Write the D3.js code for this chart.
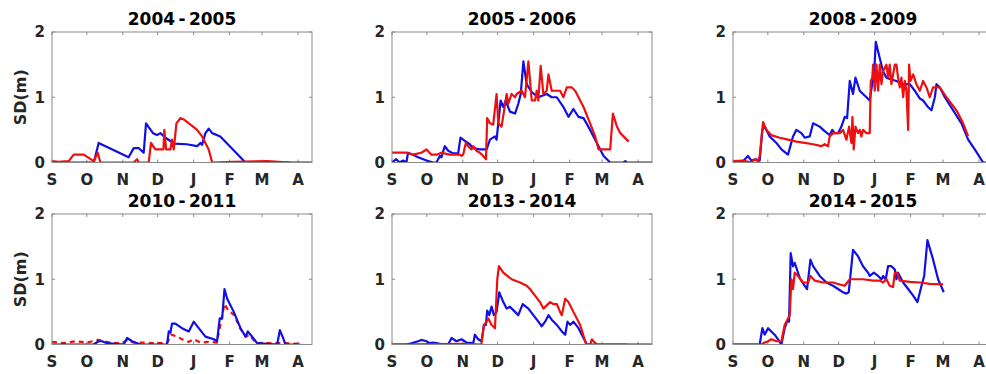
<!DOCTYPE html>
<html><head><meta charset="utf-8">
<script src="https://cdn.jsdelivr.net/npm/d3@7"></script>
<style>
html,body{margin:0;padding:0;background:#fff;}
text{font-family:"DejaVu Sans",sans-serif;font-weight:bold;}
</style></head>
<body>
<svg id="chart" width="986" height="374"></svg>
<script>
// ---- data (day index from 1 September, snow depth in m) ----
const titles = ["2004\u2009-\u20092005","2005\u2009-\u20092006","2008\u2009-\u20092009","2010\u2009-\u20092011","2013\u2009-\u20092014","2014\u2009-\u20092015"];
const monthLabels = ["S","O","N","D","J","F","M","A"];
const monthDays = [0,30,61,91,122,153,181,212];
const yTicks = [0,1,2];

const blue2004 = [[0,0],[36,0],[40.2,0.3],[66,0.08],[70.4,0.22],[74.7,0.22],[79,0.15],[81,0.6],[87,0.45],[90.5,0.42],[93.4,0.45],[97.7,0.38],[102,0.33],[105,0.29],[116,0.28],[125,0.25],[128,0.3],[129.3,0.27],[132.2,0.45],[135,0.52],[138,0.45],[145,0.4],[166.7,0],[224.7,0]];
const red2004 = [[0,0.02],[5.7,0.01],[14.4,0.02],[18.7,0.12],[27.3,0.12],[36,0.02],[39.4,0.15],[41.7,0],[70.4,0],[73.3,0.05],[74.7,0],[83.3,0],[85.3,0.3],[89,0.2],[96,0.2],[96.8,0.5],[98.3,0.2],[102,0.2],[103.4,0.35],[104.9,0.2],[107.2,0.6],[110.6,0.68],[113.5,0.66],[119.3,0.58],[125,0.5],[129.3,0.4],[135,0.2],[138,0],[156.6,0.01],[185.3,0.02],[205.5,0]];

const blue2005 = [[0,0],[3.7,0.05],[6.6,0],[9.5,0.03],[12.4,0],[13.8,0.15],[18,0.12],[22.5,0.08],[29.7,0.03],[35.4,0],[38.3,0],[41.2,0.1],[42.6,0.08],[45.5,0.25],[48.4,0.18],[52.7,0.14],[57,0.14],[59,0.38],[62.8,0.33],[67,0.28],[70,0.22],[75.7,0.2],[81.5,0.2],[84.4,0.35],[88.7,0.4],[90.1,0.35],[93.6,0.95],[95.9,0.85],[97.9,0.95],[101.6,0.78],[106,0.75],[108.8,0.9],[110.9,1.05],[113.2,1.55],[116,1.2],[120.4,1.08],[126,1.0],[133.3,1.05],[137.6,1.0],[142,1.0],[147.7,0.85],[152,0.7],[156.3,0.82],[160.7,0.7],[165,0.68],[170.7,0.5],[176.5,0.3],[182.3,0.1],[188,0],[199.5,0],[201,0.02],[202.4,0],[224,0]];
const red2005 = [[0,0.15],[12.4,0.15],[18,0.12],[25.3,0.15],[29.7,0.2],[34,0.12],[38.3,0.12],[42.6,0.15],[49.8,0.12],[58.5,0.12],[59.9,0.1],[61.3,0.12],[63.6,0.3],[65.6,0.25],[68.5,0.2],[70,0.25],[72.8,0.18],[75.7,0.15],[78.6,0.1],[81,0.05],[82,0.68],[84.4,0.6],[87.2,0.58],[90.1,1.05],[91.6,0.6],[94.4,0.55],[98.8,1.05],[100.2,0.9],[103,1.05],[106,1.0],[107.4,1.05],[111.7,1.1],[114.6,1.0],[117.5,1.55],[120.4,0.95],[123.2,0.95],[124.7,1.1],[126,0.95],[128.1,1.48],[130.4,1.05],[133.3,1.1],[134.8,1.35],[137.6,1.1],[144.8,1.1],[147.7,1.0],[150.6,1.15],[154.9,1.15],[157.8,1.1],[165,0.85],[170.7,0.6],[175,0.4],[178,0.2],[188,0.2],[190.3,0.75],[193.8,0.55],[196.7,0.45],[199.5,0.4],[203.9,0.32]];

const blue2008 = [[0,0],[8.6,0.02],[12.9,0.1],[15.8,0.03],[20.1,0.05],[21.6,0.02],[23,0.03],[25.3,0.5],[27.3,0.55],[31.6,0.4],[37.4,0.3],[41.7,0.2],[47.4,0.12],[51.7,0.4],[54.6,0.5],[58.9,0.45],[61.8,0.38],[66.1,0.4],[69,0.6],[74.7,0.55],[79,0.48],[83.3,0.42],[85.6,0.5],[87.6,0.45],[90.5,0.45],[93.4,0.55],[96.3,0.7],[98.3,0.68],[100.6,1.25],[103.4,1.05],[105.5,1.3],[109.2,1.1],[112,1.05],[115,1.0],[117.8,0.95],[120.7,1.3],[122,1.5],[123,1.85],[126.4,1.6],[129.3,1.4],[132.2,1.3],[135,1.28],[140.8,1.25],[146.6,1.2],[152.3,1.2],[156.6,1.1],[161,0.98],[163.8,0.95],[168,0.85],[171,0.8],[173.9,1.0],[175.3,1.2],[178.2,1.15],[182.5,1.0],[189.7,0.8],[196.8,0.6],[202.6,0.35],[208.3,0.2],[215.5,0],[224,0]];
const red2008 = [[0,0.02],[8.6,0.03],[15.8,0],[18.7,0.05],[21.6,0.02],[23,0.1],[25.9,0.62],[28.7,0.5],[33,0.42],[40.2,0.38],[47.4,0.35],[54.6,0.32],[61.8,0.3],[69,0.28],[76.1,0.25],[79,0.28],[81.9,0.25],[83.3,0.4],[86.2,0.45],[92,0.45],[94.8,0.5],[97.7,0.35],[100,0.55],[102,0.3],[102.9,0.7],[104,0.2],[105.5,0.55],[107.8,0.45],[109.2,0.5],[110.6,0.4],[112,0.5],[115,0.45],[117.8,0.45],[118.7,1.25],[120,1.3],[120.7,1.5],[122.1,1.1],[123.6,1.5],[125,1.1],[126.4,1.5],[127.9,1.2],[129.3,1.4],[132.2,1.5],[133.6,1.3],[135,1.5],[136.5,1.2],[139.4,1.5],[140.8,1.5],[142.2,1.3],[143.7,1.15],[145.1,1.3],[146.6,1.0],[148,1.25],[149.4,1.1],[150.9,0.5],[151.7,1.5],[152.9,1.25],[155.2,1.35],[158,1.2],[161,1.1],[163.8,1.25],[166.7,1.15],[169.5,1.0],[172.4,1.15],[178.2,1.15],[183.9,1.0],[192.5,0.8],[198.3,0.6],[202.6,0.4]];

const blue2010 = [[0,0],[35.9,0],[40.2,0.05],[43.1,0.05],[47.4,0.02],[61.8,0],[64.7,0.1],[69,0.05],[76.1,0],[99.1,0],[100.6,0.2],[102,0.18],[103.4,0.32],[106.3,0.32],[112,0.25],[117.8,0.2],[122.1,0.35],[126.4,0.25],[132.2,0.12],[139.4,0.08],[142.2,0.05],[144.5,0.4],[146.6,0.4],[148.6,0.85],[150.9,0.7],[156.6,0.5],[162.4,0.25],[166.7,0.12],[168.7,0.2],[172.4,0.12],[176.7,0.02],[194,0],[196.3,0.22],[199.1,0.1],[201.1,0],[214,0]];
const red2010 = [[0,0.04],[10,0.02],[20,0.05],[30,0.03],[40,0.07],[50,0.03],[60,0.02],[65,0.07],[70,0.03],[80,0.03],[90,0.02],[99,0.02],[103,0.15],[108,0.12],[112,0.08],[118,0.04],[122,0.08],[128,0.03],[135,0.04],[142,0.03],[148.6,0.62],[152,0.52],[157,0.45],[162,0.25],[167,0.12],[170,0.15],[176,0.02],[200,0.02],[214,0.01]];

const blue2013 = [[0,0],[12.4,0],[16.7,0.02],[22.5,0.05],[25.3,0.07],[29.7,0.05],[32.5,0.02],[35.4,0.03],[38.3,0.02],[44,0],[48.4,0],[51.3,0.1],[55.6,0.05],[59.9,0.08],[64.2,0.03],[70,0.02],[71.4,0.15],[74.3,0.08],[77.2,0.05],[79.2,0.3],[80.9,0.3],[82,0.52],[83.8,0.45],[85.8,0.58],[87.8,0.45],[90.1,0.5],[92.4,0.8],[95.9,0.65],[98.8,0.55],[101.6,0.58],[106,0.5],[108.8,0.45],[112.6,0.62],[117.5,0.55],[121.8,0.45],[126.1,0.35],[129,0.28],[131.9,0.35],[134.8,0.45],[137.6,0.38],[142,0.3],[146.3,0.2],[149.2,0.15],[151.2,0.35],[153.5,0.3],[156.3,0.35],[160.7,0.25],[165,0.1],[167.9,0],[224,0]];
const red2013 = [[0,0],[60,0.01],[77,0],[79.2,0.3],[81.5,0.35],[83,0.4],[85.8,0.3],[88.7,0.25],[90.7,1.0],[92.1,1.2],[95.9,1.1],[103,1.0],[110.3,0.95],[116,0.9],[118.9,0.85],[123.2,0.75],[127.5,0.65],[130.4,0.55],[133.3,0.6],[136.2,0.65],[139,0.62],[142,0.62],[144.8,0.5],[146.3,0.45],[149.2,0.7],[152,0.65],[156.3,0.5],[162.1,0.3],[167.3,0],[170.7,0],[172.2,0.08],[173.6,0.05],[176.5,0],[202.4,0]];

const blue2014 = [[0,0],[23,0],[25.3,0.25],[27.3,0.15],[30.2,0.25],[33,0.2],[35.9,0.15],[38.8,0.08],[41.7,0],[44.5,0.25],[46.6,0.35],[48.3,0.35],[49.7,1.4],[51.7,1.2],[53.2,1.25],[56,1.1],[58,1.0],[61.8,0.9],[63.8,0.85],[66.7,1.3],[69,1.2],[74.7,1.05],[80.5,0.95],[86.2,0.9],[90.5,0.85],[94.8,0.8],[97.7,0.78],[99.7,0.8],[103.4,1.45],[107.8,1.35],[112,1.2],[116.4,1.1],[117.8,1.05],[121.3,1.1],[125,1.05],[127.9,1.0],[129.3,1.05],[131.6,1.0],[133.6,1.2],[136.5,1.2],[139.4,1.15],[140.8,1.0],[142.2,1.1],[146.6,0.95],[150.9,0.85],[155.2,0.75],[158.9,0.65],[162.4,0.9],[164.7,1.05],[167.5,1.6],[172.4,1.3],[176.7,1.0],[181.6,0.8]];
const red2014 = [[0,0],[24.4,0],[27.3,0.03],[30.2,0.05],[33,0.08],[37.4,0.05],[41.7,0.05],[44.5,0.3],[47.4,0.4],[48.9,0.45],[50.3,1.0],[51.7,0.85],[53.2,1.1],[56,1.05],[60.3,0.95],[64.7,0.95],[66.7,1.05],[70.4,0.98],[77.6,0.95],[86.2,0.95],[92,0.92],[96.3,0.9],[100.6,1.0],[112,1.0],[120.7,0.98],[126.4,0.98],[129.3,0.95],[132.2,1.0],[135,0.9],[137.9,0.88],[139.4,1.1],[141.4,1.1],[143.7,0.98],[152.3,0.96],[161,0.95],[169.5,0.93],[181,0.92]];

const blueSeries = [blue2004, blue2005, blue2008, blue2010, blue2013, blue2014];
const redSeries  = [red2004, red2005, red2008, red2010, red2013, red2014];
const redDashed  = [false,false,false,true,false,false];

// ---- layout ----
const colLeft = [52, 392, 733];
const rowTop = [32, 214];
const pw = 260, ph = 130.5;
const BLUE = "#1010e6", RED = "#ec1010";

const svg = d3.select("#chart");
const x = d3.scaleLinear().domain([0,224]).range([0,pw]);
const y = d3.scaleLinear().domain([0,2]).range([ph,0]);

titles.forEach((t,i)=>{
  const r = Math.floor(i/3), c = i%3;
  const g = svg.append("g").attr("transform",`translate(${colLeft[c]},${rowTop[r]})`);
  g.append("clipPath").attr("id","clip"+i).append("rect").attr("width",pw).attr("height",ph);
  g.append("rect").attr("width",pw).attr("height",ph).attr("fill","#fff");

  // ticks inside on all sides
  const tk = g.append("g").attr("stroke","#8a8a8a").attr("stroke-width",1);
  monthDays.forEach(d=>{
    tk.append("line").attr("x1",x(d)).attr("x2",x(d)).attr("y1",ph).attr("y2",ph-3);
    tk.append("line").attr("x1",x(d)).attr("x2",x(d)).attr("y1",0).attr("y2",3);
  });
  yTicks.forEach(v=>{
    tk.append("line").attr("x1",0).attr("x2",3).attr("y1",y(v)).attr("y2",y(v));
    tk.append("line").attr("x1",pw).attr("x2",pw-3).attr("y1",y(v)).attr("y2",y(v));
  });

  const line = d3.line().x(d=>x(d[0])).y(d=>y(d[1]));
  const plot = g.append("g").attr("clip-path",`url(#clip${i})`);
  const drawBlue = ()=>plot.append("path").datum(blueSeries[i]).attr("d",line)
      .attr("fill","none").attr("stroke",BLUE).attr("stroke-width",2.2).attr("stroke-linejoin","round");
  const drawRed = ()=>plot.append("path").datum(redSeries[i]).attr("d",line)
      .attr("fill","none").attr("stroke",RED).attr("stroke-width",2.2).attr("stroke-linejoin","round")
      .attr("stroke-dasharray",redDashed[i]?"5,4":null);
  if (redDashed[i]) { drawRed(); drawBlue(); } else { drawBlue(); drawRed(); }

  // box
  g.append("rect").attr("x",0).attr("y",0).attr("width",pw).attr("height",ph)
    .attr("fill","none").attr("stroke","#8a8a8a").attr("stroke-width",1);

  // axes labels
  g.selectAll(".xl").data(monthLabels).enter().append("text")
    .attr("x",(d,k)=>x(monthDays[k])).attr("y",ph+22).attr("text-anchor","middle")
    .attr("font-size",15).attr("fill","#262626").text(d=>d);
  g.selectAll(".yl").data(yTicks).enter().append("text")
    .attr("x",-7).attr("y",d=>y(d)).attr("dy","0.35em").attr("text-anchor","end")
    .attr("font-size",15).attr("fill","#262626").text(d=>d);

  g.append("text").attr("x",pw/2).attr("y",-7).attr("text-anchor","middle")
    .attr("font-size",17).attr("fill","#000").text(t);

  if (c===0) {
    g.append("text").attr("transform",`translate(-26,${ph/2}) rotate(-90)`)
      .attr("text-anchor","middle").attr("font-size",16).attr("fill","#262626").text("SD(m)");
  }
});
</script>
</body></html>
